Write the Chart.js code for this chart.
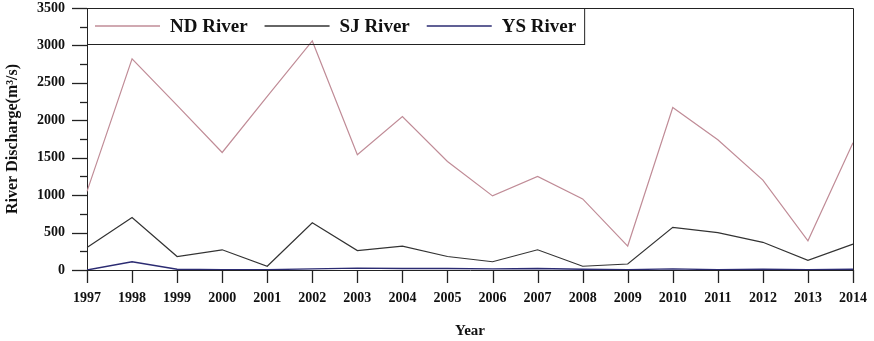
<!DOCTYPE html>
<html>
<head>
<meta charset="utf-8">
<script src="https://cdn.jsdelivr.net/npm/chart.js@4.4.1/dist/chart.umd.min.js"></script>
<style>
  html, body { margin: 0; padding: 0; background: #fff; }
  #wrap { width: 874px; height: 341px; position: relative; }
</style>
</head>
<body>
<div id="wrap"><canvas id="chart" width="874" height="341"></canvas></div>
<script>
// ── data ──────────────────────────────────────────
const years = ["1997","1998","1999","2000","2001","2002","2003","2004","2005",
               "2006","2007","2008","2009","2010","2011","2012","2013","2014"];
const ndRiver = [1050, 2820, 2200, 1570, 2320, 3060, 1540, 2050, 1450,
                 990, 1250, 950, 320, 2170, 1740, 1200, 390, 1700];
const sjRiver = [300, 700, 180, 270, 50, 630, 260, 320, 180,
                 110, 270, 50, 80, 570, 500, 370, 130, 345];
const ysRiver = [0, 110, 10, 5, 5, 15, 25, 20, 20,
                 15, 20, 10, 5, 15, 5, 10, 5, 10];
const yMax = 3500;
const yStep = 500;
const minorStep = 250;

const SERIF = '"Liberation Serif", "Times New Roman", serif';
const AXIS = "#222222";

// box round the plot: top and right edges
const frame = {
  id: "frame",
  afterDraw(chart) {
    const { ctx, chartArea: a } = chart;
    ctx.save();
    ctx.strokeStyle = AXIS;
    ctx.lineWidth = 1;
    ctx.beginPath();
    ctx.moveTo(a.left, a.top + 0.5);
    ctx.lineTo(a.right + 0.5, a.top + 0.5);
    ctx.lineTo(a.right + 0.5, a.bottom);
    ctx.stroke();
    ctx.restore();
  }
};

// tick marks: long on the y steps, short minor ones between, and one per year
const tickMarks = {
  id: "tickMarks",
  afterDraw(chart) {
    const ctx = chart.ctx;
    const x = chart.scales.x, y = chart.scales.y;
    const a = chart.chartArea;
    ctx.save();
    ctx.strokeStyle = AXIS;
    ctx.lineWidth = 1.3;
    for (let v = 0; v <= yMax; v += minorStep) {
      const py = Math.round(y.getPixelForValue(v)) + 0.5;
      const len = v % yStep === 0 ? 15 : 7;
      ctx.beginPath();
      ctx.moveTo(a.left - len, py);
      ctx.lineTo(a.left, py);
      ctx.stroke();
    }
    for (let i = 0; i < years.length; i++) {
      const px = Math.round(x.getPixelForValue(i)) + 0.5;
      ctx.beginPath();
      ctx.moveTo(px, a.bottom);
      ctx.lineTo(px, a.bottom + 13);
      ctx.stroke();
    }
    ctx.restore();
  }
};

// legend boxed inside the plot, top-left
const boxLegend = {
  id: "boxLegend",
  afterDraw(chart) {
    const { ctx, chartArea: a } = chart;
    const h = 36, lineW = 65;
    ctx.save();
    ctx.font = "bold 19px " + SERIF;
    ctx.textBaseline = "middle";
    let x = a.left + 8;
    const cy = a.top + 18;
    chart.data.datasets.forEach(ds => {
      ctx.strokeStyle = ds.borderColor;
      ctx.lineWidth = 1.3;
      ctx.beginPath();
      ctx.moveTo(x, cy);
      ctx.lineTo(x + lineW, cy);
      ctx.stroke();
      x += lineW + 10;
      ctx.fillStyle = "#111";
      ctx.fillText(ds.label, x, cy + 1);
      x += ctx.measureText(ds.label).width + 17;
    });
    const right = x - 17 + 8;
    ctx.strokeStyle = AXIS;
    ctx.lineWidth = 1;
    ctx.strokeRect(a.left + 0.5, a.top + 0.5, right - a.left, h);
    ctx.restore();
  }
};

new Chart(document.getElementById("chart"), {
  type: "line",
  data: {
    labels: years,
    datasets: [
      { label: "ND River", data: ndRiver, borderColor: "#c08c97", borderWidth: 1.2 },
      { label: "SJ River", data: sjRiver, borderColor: "#333333", borderWidth: 1.2 },
      { label: "YS River", data: ysRiver, borderColor: "#2b2b72", borderWidth: 1.4 },
    ]
  },
  options: {
    responsive: false,
    animation: false,
    devicePixelRatio: 1,
    elements: { point: { radius: 0 }, line: { tension: 0 } },
    layout: { padding: { top: 0, right: 20, left: 0, bottom: 0 } },
    plugins: { legend: { display: false }, tooltip: { enabled: false } },
    scales: {
      x: {
        offset: false,
        grid: { display: false, drawTicks: true, tickLength: 13 },
        border: { display: true, color: AXIS, width: 1 },
        ticks: { color: "#111", font: { family: SERIF, size: 14, weight: "bold" }, padding: 7,
                 maxRotation: 0, autoSkip: false },
        title: { display: true, text: "Year", color: "#111",
                 font: { family: SERIF, size: 15, weight: "bold" }, padding: { top: 4, bottom: 1 } },
        afterFit(scale) { scale.height = 71; }
      },
      y: {
        min: 0, max: yMax,
        grid: { display: false, drawTicks: true, tickLength: 15 },
        border: { display: true, color: AXIS, width: 1 },
        ticks: { stepSize: yStep, color: "#111", padding: 7,
                 font: { family: SERIF, size: 14, weight: "bold" },
                 callback: v => String(v) },
        title: { display: true, text: "River Discharge(m³/s)", color: "#111",
                 font: { family: SERIF, size: 16, weight: "bold" }, padding: { top: 3, bottom: 4 } },
        afterFit(scale) { scale.width = 87; scale.paddingTop = 8; scale.paddingBottom = 0; }
      }
    }
  },
  plugins: [frame, tickMarks, boxLegend]
});
</script>
</body>
</html>
